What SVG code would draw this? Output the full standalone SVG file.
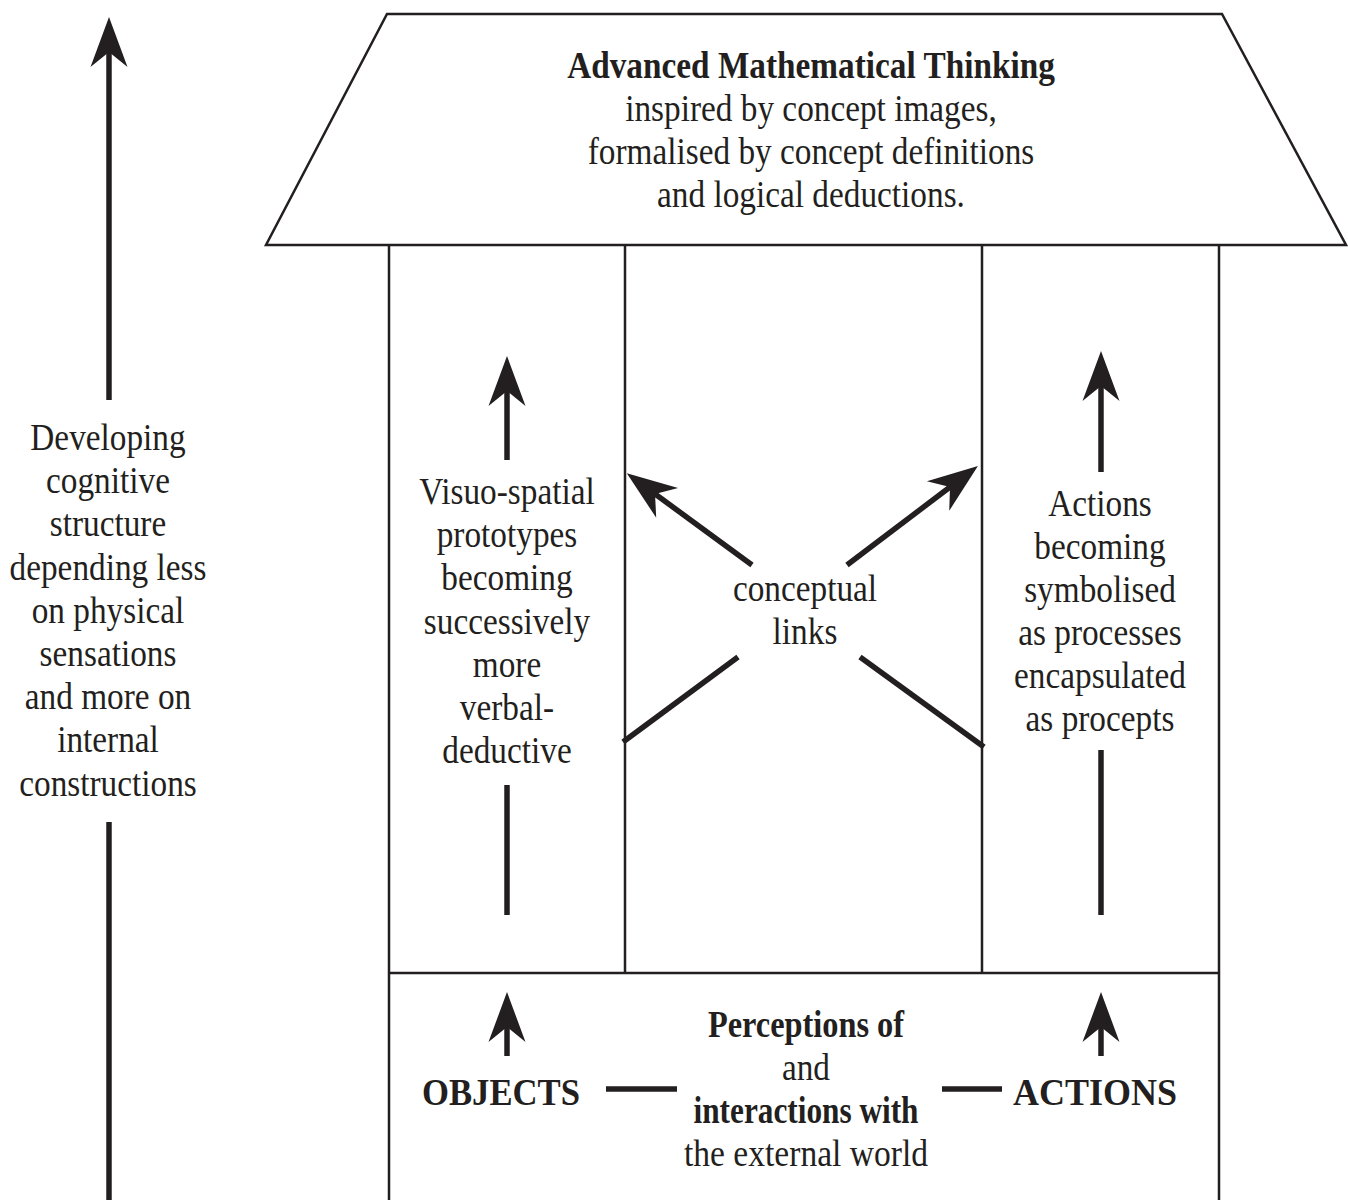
<svg xmlns="http://www.w3.org/2000/svg" width="1348" height="1200" viewBox="0 0 1348 1200">
<defs>
<marker id="ah" markerUnits="userSpaceOnUse" viewBox="-22 -20 54 40" markerWidth="54" markerHeight="40" refX="0" refY="0" orient="auto">
<path d="M30,0 L-20,-18.5 L-5,0 L-20,18.5 Z" fill="#231f20"/>
</marker>
</defs>
<style>
.frame{fill:none;stroke:#231f20;stroke-width:2.5}
.arr{stroke:#231f20;stroke-width:5.5;fill:none}
.t{font-family:"Liberation Serif","Times New Roman",serif;font-size:37px;fill:#231f20;text-anchor:middle}
.b{font-weight:bold}
</style>
<rect width="1348" height="1200" fill="#ffffff"/>
<g id="roof">
<polygon class="frame" points="387,14 1222,14 1346,245 266,245"/>
<g transform="translate(811,0) scale(0.9,1) translate(-811,0)">
<text class="t b" x="811" y="78">Advanced Mathematical Thinking</text>
<text class="t" x="811" y="121">inspired by concept images,</text>
<text class="t" x="811" y="164">formalised by concept definitions</text>
<text class="t" x="811" y="207">and logical deductions.</text>
</g>
</g>
<g id="body">
<line class="frame" x1="389" y1="245" x2="389" y2="1202"/>
<line class="frame" x1="1219" y1="245" x2="1219" y2="1202"/>
<line class="frame" x1="389" y1="973" x2="1219" y2="973"/>
</g>
<g id="left-column">
<line class="frame" x1="625" y1="245" x2="625" y2="973"/>
<g transform="translate(507,0) scale(0.9,1) translate(-507,0)">
<text class="t" x="507" y="504">Visuo-spatial</text>
<text class="t" x="507" y="547">prototypes</text>
<text class="t" x="507" y="590">becoming</text>
<text class="t" x="507" y="634">successively</text>
<text class="t" x="507" y="677">more</text>
<text class="t" x="507" y="720">verbal-</text>
<text class="t" x="507" y="763">deductive</text>
</g>
</g>
<g id="right-column">
<line class="frame" x1="982" y1="245" x2="982" y2="973"/>
<g transform="translate(1100,0) scale(0.9,1) translate(-1100,0)">
<text class="t" x="1100" y="516">Actions</text>
<text class="t" x="1100" y="559">becoming</text>
<text class="t" x="1100" y="602">symbolised</text>
<text class="t" x="1100" y="645">as processes</text>
<text class="t" x="1100" y="688">encapsulated</text>
<text class="t" x="1100" y="731">as procepts</text>
</g>
</g>
<g id="center">
<g transform="translate(805,0) scale(0.9,1) translate(-805,0)">
<text class="t" x="805" y="601">conceptual</text>
<text class="t" x="805" y="644">links</text>
</g>
</g>
<g id="base">
<text class="t b" x="806" y="1037" font-size="40" textLength="196" lengthAdjust="spacingAndGlyphs">Perceptions of</text>
<text class="t" x="806" y="1080" textLength="48" lengthAdjust="spacingAndGlyphs">and</text>
<text class="t b" x="806" y="1123" font-size="40" textLength="225" lengthAdjust="spacingAndGlyphs">interactions with</text>
<text class="t" x="806" y="1166" textLength="244" lengthAdjust="spacingAndGlyphs">the external world</text>
</g>
<g id="objects">
<text class="t b" x="501" y="1105" font-size="46" textLength="158" lengthAdjust="spacingAndGlyphs">OBJECTS</text>
</g>
<g id="actions">
<text class="t b" x="1095" y="1105" font-size="46" textLength="164" lengthAdjust="spacingAndGlyphs">ACTIONS</text>
</g>
<g id="side-label">
<g transform="translate(108,0) scale(0.9,1) translate(-108,0)">
<text class="t" x="108" y="450">Developing</text>
<text class="t" x="108" y="493">cognitive</text>
<text class="t" x="108" y="536">structure</text>
<text class="t" x="108" y="580">depending less</text>
<text class="t" x="108" y="623">on physical</text>
<text class="t" x="108" y="666">sensations</text>
<text class="t" x="108" y="709">and more on</text>
<text class="t" x="108" y="752">internal</text>
<text class="t" x="108" y="796">constructions</text>
</g>
</g>
<g id="connectors">
<line class="arr" x1="109" y1="1200" x2="109" y2="822"/>
<line class="arr" x1="109" y1="400" x2="109" y2="47" marker-end="url(#ah)"/>
<line class="arr" x1="507" y1="915" x2="507" y2="785"/>
<line class="arr" x1="507" y1="460" x2="507" y2="386" marker-end="url(#ah)"/>
<line class="arr" x1="1101" y1="915" x2="1101" y2="750"/>
<line class="arr" x1="1101" y1="472" x2="1101" y2="381" marker-end="url(#ah)"/>
<line class="arr" x1="507" y1="1056" x2="507" y2="1022" marker-end="url(#ah)"/>
<line class="arr" x1="1101" y1="1056" x2="1101" y2="1022" marker-end="url(#ah)"/>
<line class="arr" x1="752" y1="565" x2="651" y2="491" marker-end="url(#ah)"/>
<line class="arr" x1="847" y1="565" x2="954" y2="484" marker-end="url(#ah)"/>
<line class="arr" x1="623" y1="742" x2="738" y2="657"/>
<line class="arr" x1="860" y1="657" x2="984" y2="747"/>
<line class="arr" x1="606" y1="1089" x2="677" y2="1089" stroke-width="7"/>
<line class="arr" x1="942" y1="1089" x2="1002" y2="1089" stroke-width="7"/>
</g>
</svg>
